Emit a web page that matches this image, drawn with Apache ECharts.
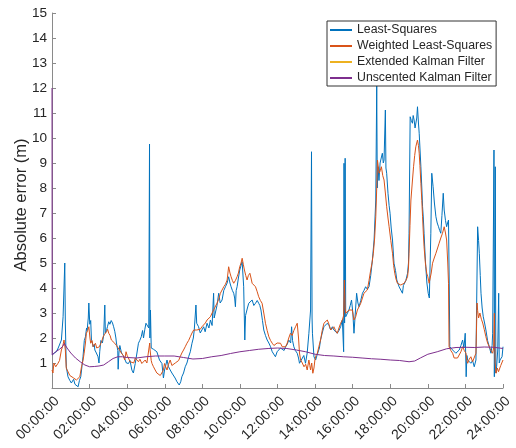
<!DOCTYPE html>
<html>
<head>
<meta charset="utf-8">
<script src="https://cdn.jsdelivr.net/npm/echarts@6/dist/echarts.min.js"></script>
<style>html,body{margin:0;padding:0;background:#fff}#c{width:516px;height:448px}</style>
</head>
<body>
<div id="c"></div>
<script>
const seriesNames = ['Least-Squares','Weighted Least-Squares','Extended Kalman Filter','Unscented Kalman Filter'];
const xTicks = [0,2,4,6,8,10,12,14,16,18,20,22,24];

// Least-Squares: time (hours) and absolute error (m)
const lsT = [0.00,0.12,0.23,0.33,0.41,0.50,0.59,0.68,0.71,0.76,0.85,0.95,1.03,1.15,1.22,1.30,1.39,1.46,1.53,1.60,1.65,1.72,1.78,1.84,1.87,1.93,1.96,2.01,2.06,2.10,2.15,2.19,2.25,2.28,2.36,2.45,2.50,2.54,2.60,2.68,2.75,2.81,2.84,2.90,2.95,3.02,3.08,3.15,3.22,3.28,3.34,3.40,3.43,3.50,3.52,3.56,3.61,3.70,3.79,3.89,3.96,4.07,4.15,4.25,4.33,4.43,4.52,4.60,4.67,4.75,4.82,4.87,4.94,5.00,5.10,5.15,5.19,5.21,5.24,5.28,5.32,5.40,5.49,5.58,5.67,5.72,5.85,5.93,5.99,6.05,6.12,6.20,6.29,6.38,6.47,6.55,6.65,6.72,6.77,6.85,6.91,7.00,7.09,7.18,7.27,7.36,7.45,7.52,7.57,7.66,7.70,7.80,7.89,8.07,8.15,8.25,8.35,8.43,8.52,8.60,8.63,8.69,8.78,8.87,8.95,9.05,9.14,9.23,9.32,9.40,9.47,9.53,9.60,9.67,9.72,9.76,9.80,9.85,9.92,9.99,10.06,10.12,10.20,10.26,10.30,10.33,10.40,10.47,10.56,10.65,10.74,10.83,10.92,11.00,11.06,11.12,11.20,11.27,11.36,11.45,11.54,11.63,11.72,11.80,11.89,11.98,12.07,12.16,12.25,12.35,12.43,12.52,12.60,12.70,12.75,12.80,12.87,12.95,13.05,13.12,13.17,13.25,13.32,13.40,13.49,13.58,13.67,13.76,13.81,13.84,13.86,13.94,14.03,14.10,14.17,14.23,14.29,14.38,14.47,14.56,14.65,14.74,14.83,14.92,15.00,15.09,15.18,15.27,15.36,15.45,15.52,15.54,15.57,15.60,15.63,15.72,15.80,15.87,15.94,16.01,16.07,16.14,16.21,16.28,16.34,16.43,16.52,16.60,16.69,16.78,16.87,16.96,17.05,17.14,17.23,17.28,17.31,17.35,17.40,17.46,17.52,17.58,17.63,17.67,17.74,17.77,17.81,17.88,17.94,17.99,18.05,18.12,18.20,18.28,18.35,18.41,18.47,18.56,18.65,18.70,18.74,18.83,18.92,18.97,19.00,19.06,19.12,19.18,19.22,19.27,19.32,19.36,19.41,19.45,19.50,19.54,19.58,19.63,19.68,19.72,19.76,19.80,19.85,19.89,19.95,20.02,20.08,20.11,20.16,20.21,20.28,20.35,20.43,20.50,20.57,20.63,20.69,20.75,20.82,20.87,20.94,21.00,21.05,21.10,21.14,21.17,21.24,21.32,21.40,21.49,21.58,21.67,21.76,21.85,21.92,21.99,22.04,22.08,22.12,22.20,22.29,22.38,22.47,22.56,22.65,22.70,22.74,22.79,22.83,22.89,22.95,23.02,23.09,23.18,23.27,23.36,23.42,23.45,23.52,23.54,23.56,23.59,23.62,23.66,23.72,23.77,23.80,23.84,23.90,23.95,24.00];
const lsV = [1.32,1.40,1.45,1.60,1.55,1.92,2.85,5.00,2.60,0.85,0.45,0.30,0.20,0.35,0.15,0.20,0.05,0.30,0.45,0.90,1.25,1.90,2.05,2.40,2.30,2.80,3.40,2.55,2.70,1.90,1.80,1.65,1.75,1.52,1.40,1.25,1.00,1.45,1.90,1.80,2.10,3.32,2.20,2.30,2.45,2.65,2.55,2.70,2.60,2.45,2.27,2.00,1.80,1.50,0.75,1.40,1.70,1.40,1.30,1.12,1.00,0.98,1.10,0.72,0.60,0.98,1.40,1.79,1.90,2.05,2.30,2.00,2.35,2.59,2.65,2.40,9.76,2.00,3.12,1.60,1.65,1.55,1.60,1.45,1.52,1.12,0.98,0.40,0.72,0.90,1.12,0.85,0.72,0.60,0.52,0.40,0.25,0.30,0.12,0.25,0.45,0.60,0.85,1.00,1.25,1.45,1.79,2.00,2.32,3.32,2.59,2.45,2.20,2.45,2.25,2.59,2.40,2.72,2.50,3.79,2.80,2.85,3.30,3.79,3.40,3.52,3.90,4.05,4.20,4.45,4.20,4.05,3.90,3.79,3.60,3.25,3.90,4.05,4.40,4.72,4.90,5.05,4.05,1.92,2.90,2.85,3.20,3.39,3.45,3.52,3.30,3.39,3.50,3.39,3.30,3.12,2.70,2.32,2.10,1.92,1.80,1.65,1.45,1.39,1.25,1.45,1.39,1.60,1.65,1.50,1.65,1.75,1.92,1.80,2.45,1.90,1.65,1.50,1.39,1.20,0.99,1.10,1.12,1.30,0.99,1.40,2.19,3.12,9.45,2.80,2.19,1.25,1.12,1.30,1.25,1.60,1.92,2.20,2.45,2.40,2.59,2.50,2.32,2.45,2.32,2.40,2.19,2.30,2.45,2.72,1.45,8.99,2.60,9.19,2.85,2.90,3.12,3.30,3.52,3.00,2.19,3.00,3.79,3.40,3.25,3.50,3.79,3.90,4.05,3.95,4.05,4.50,5.12,5.92,7.52,12.10,8.00,8.85,8.30,9.00,9.20,9.39,9.00,9.12,11.12,8.80,8.59,7.79,7.30,6.99,6.40,5.92,4.99,4.70,4.32,4.40,4.05,4.00,3.79,4.10,4.05,4.30,4.59,5.00,6.19,10.85,10.70,10.59,10.90,10.72,10.40,10.45,10.80,11.25,10.60,10.19,9.60,8.85,8.00,7.25,6.80,6.19,5.40,4.85,4.20,3.79,3.60,3.52,6.19,8.59,8.05,7.40,6.85,6.60,6.45,6.30,6.19,6.90,7.79,7.12,6.70,6.45,6.60,6.72,4.00,1.65,1.70,1.52,1.45,1.39,1.45,1.52,1.70,1.92,1.60,2.19,0.45,1.30,1.12,1.20,0.99,1.10,0.85,1.12,6.45,5.90,5.39,4.50,3.79,3.20,2.85,2.60,2.32,1.90,1.65,1.39,1.70,2.19,9.52,0.45,3.00,8.85,0.60,0.85,1.52,3.79,1.00,1.12,1.10,1.25,1.65];

// Weighted Least-Squares
const wlsT = [0.00,0.05,0.10,0.20,0.32,0.40,0.50,0.58,0.64,0.71,0.76,0.85,0.95,1.03,1.15,1.30,1.40,1.48,1.57,1.65,1.71,1.78,1.83,1.90,1.96,2.02,2.06,2.13,2.19,2.25,2.31,2.38,2.45,2.52,2.60,2.66,2.72,2.80,2.90,2.96,3.02,3.09,3.16,3.25,3.34,3.43,3.52,3.61,3.70,3.79,3.87,3.94,4.00,4.07,4.16,4.25,4.35,4.43,4.52,4.60,4.68,4.78,4.87,4.96,5.05,5.13,5.20,5.22,5.28,5.32,5.40,5.49,5.58,5.67,5.76,5.85,5.92,5.99,6.05,6.12,6.20,6.29,6.38,6.47,6.56,6.65,6.74,6.82,6.91,7.00,7.09,7.18,7.27,7.36,7.45,7.54,7.62,7.70,7.80,7.89,7.98,8.07,8.16,8.25,8.34,8.43,8.52,8.60,8.69,8.78,8.87,8.96,9.05,9.14,9.23,9.32,9.40,9.47,9.53,9.60,9.67,9.76,9.85,9.92,9.99,10.06,10.12,10.18,10.24,10.31,10.38,10.45,10.53,10.59,10.65,10.74,10.83,10.92,11.00,11.09,11.18,11.27,11.36,11.45,11.54,11.63,11.72,11.81,11.90,11.98,12.07,12.16,12.25,12.34,12.43,12.52,12.60,12.69,12.78,12.87,12.96,13.05,13.12,13.17,13.23,13.32,13.41,13.50,13.58,13.67,13.72,13.76,13.82,13.88,13.94,13.99,14.05,14.12,14.20,14.29,14.38,14.47,14.56,14.65,14.74,14.83,14.92,15.00,15.09,15.18,15.27,15.36,15.45,15.52,15.56,15.60,15.63,15.72,15.80,15.89,15.98,16.07,16.16,16.25,16.34,16.43,16.52,16.60,16.69,16.78,16.87,16.96,17.03,17.10,17.17,17.23,17.28,17.32,17.37,17.41,17.47,17.53,17.60,17.67,17.74,17.81,17.88,17.94,18.03,18.12,18.18,18.24,18.31,18.38,18.47,18.56,18.65,18.74,18.83,18.92,18.97,19.00,19.05,19.10,19.17,19.24,19.30,19.36,19.45,19.50,19.54,19.58,19.63,19.68,19.72,19.76,19.80,19.87,19.94,20.00,20.07,20.11,20.18,20.25,20.34,20.43,20.52,20.60,20.69,20.78,20.87,20.94,21.00,21.06,21.10,21.13,21.22,21.32,21.40,21.49,21.58,21.67,21.76,21.85,21.94,22.03,22.08,22.12,22.20,22.29,22.38,22.47,22.56,22.62,22.65,22.70,22.77,22.85,22.92,23.00,23.09,23.18,23.27,23.36,23.45,23.50,23.54,23.58,23.63,23.70,23.76,23.81,23.88,23.95,24.00];
const wlsV = [0.72,0.60,0.99,0.85,0.99,1.10,1.52,1.70,1.92,1.52,0.79,0.72,0.50,0.45,0.40,0.32,0.40,0.45,0.85,1.10,1.39,1.80,2.19,2.30,2.45,2.00,1.79,1.90,1.65,1.70,1.79,1.60,1.52,1.65,1.79,1.90,2.05,2.15,2.25,2.35,2.19,2.10,1.92,1.85,1.79,1.70,1.65,1.50,1.39,1.30,1.12,1.45,1.30,1.25,1.05,1.12,1.00,1.20,1.12,1.05,1.15,0.98,1.05,1.12,1.00,0.98,1.80,1.52,1.10,0.98,0.85,0.72,0.60,0.52,0.50,0.45,0.70,0.98,0.85,0.72,0.95,1.12,0.90,0.85,1.00,0.98,1.10,1.25,1.40,1.52,1.65,1.79,1.90,2.05,2.20,2.32,2.25,2.32,2.40,2.35,2.45,2.45,2.60,2.72,2.70,2.85,3.00,3.12,3.20,3.39,3.55,3.79,3.85,4.05,4.15,4.32,4.85,4.60,4.45,4.30,4.19,4.30,4.45,4.60,4.85,5.00,5.19,4.95,4.72,4.50,4.32,4.50,4.59,4.40,4.19,4.20,4.05,3.85,3.65,3.50,3.39,3.00,2.59,2.30,2.05,1.90,1.79,1.70,1.65,1.80,1.79,1.79,1.65,1.70,1.65,1.80,2.00,2.19,2.10,2.30,2.45,2.59,2.00,1.40,1.12,1.00,0.85,0.95,0.72,1.12,0.90,0.72,1.00,0.59,0.80,1.12,1.30,1.39,1.65,1.92,2.30,2.59,2.65,2.72,2.55,2.32,2.40,2.45,2.30,2.19,2.40,2.59,2.72,2.90,4.32,3.20,2.99,3.05,3.12,3.12,3.12,2.72,2.85,3.12,3.25,3.39,3.60,3.79,3.85,3.92,4.30,4.72,5.00,5.39,6.00,6.85,8.00,9.12,8.80,8.59,8.70,8.85,8.50,8.32,7.80,7.25,6.80,6.45,5.90,5.39,4.90,4.59,4.35,4.19,4.15,4.12,4.20,4.19,4.30,4.45,4.80,5.39,6.50,7.52,8.20,8.85,9.30,9.65,9.92,9.70,9.39,8.90,8.19,7.50,6.85,6.20,5.65,5.00,4.59,4.45,4.19,4.19,4.60,4.99,5.20,5.39,5.60,5.79,6.00,6.19,6.45,6.20,5.92,5.00,4.19,1.65,1.50,1.39,1.20,1.12,1.20,1.25,1.45,1.65,1.50,1.39,1.10,0.99,1.15,1.25,1.05,1.12,1.39,3.40,3.10,2.80,3.00,2.75,2.60,2.35,2.05,1.80,1.65,1.50,1.39,1.60,2.99,1.00,0.59,0.80,0.65,0.72,0.90,0.85,1.12];

// Extended Kalman Filter (not visible in the reference; legend entry only)
const ekfT = [];
const ekfV = [];

// Unscented Kalman Filter
const ukfT = [0.00,0.01,0.20,0.40,0.55,0.66,0.80,1.00,1.25,1.50,1.75,2.00,2.25,2.50,2.75,3.00,3.25,3.50,3.75,4.00,4.50,5.00,5.50,6.00,6.50,7.00,7.50,8.00,8.50,9.00,9.50,10.00,10.50,11.00,11.50,12.00,12.50,13.00,13.50,14.00,14.50,15.00,15.50,16.00,16.50,17.00,17.50,18.00,18.50,19.00,19.30,19.60,20.00,20.50,21.00,21.50,22.00,22.50,23.00,23.50,24.00];
const ukfV = [12.0,1.32,1.45,1.55,1.65,1.78,1.60,1.40,1.20,1.05,0.92,0.85,0.86,0.88,0.92,1.05,1.18,1.25,1.25,1.22,1.20,1.25,1.28,1.28,1.28,1.22,1.16,1.18,1.25,1.30,1.38,1.45,1.50,1.55,1.58,1.60,1.58,1.52,1.45,1.35,1.30,1.28,1.25,1.23,1.20,1.17,1.15,1.12,1.10,1.05,1.08,1.20,1.35,1.45,1.57,1.62,1.63,1.62,1.64,1.63,1.58];

const colors = ['#0072BD','#D95319','#EDB120','#7E2F8E'];
const zip = (t, v) => t.map((x, i) => [x, v[i]]);
const pad = n => (n < 10 ? '0' : '') + n;

const chart = echarts.init(document.getElementById('c'), null, {renderer: 'canvas'});
const axisCol = '#8a8a8a';
const txtCol = '#262626';
const font = 'Liberation Sans, Arial, sans-serif';
const datas = [zip(lsT, lsV), zip(wlsT, wlsV), zip(ekfT, ekfV), zip(ukfT, ukfV)];

chart.setOption({
  animation: false,
  backgroundColor: '#fff',
  textStyle: {fontFamily: font},
  grid: {left: 52, right: 13, top: 13, bottom: 60, containLabel: false, outerBoundsMode: 'none'},
  legend: {
    orient: 'vertical',
    left: 327, top: 21,
    padding: [3, 4, 2, 3],
    itemGap: 4,
    itemWidth: 22, itemHeight: 2,
    icon: 'rect',
    backgroundColor: '#fff',
    borderColor: '#333',
    borderWidth: 1,
    borderRadius: 0,
    textStyle: {fontSize: 12.3, color: txtCol, fontFamily: font},
    data: seriesNames
  },
  xAxis: {
    type: 'value', min: 0, max: 24, interval: 2,
    axisLine: {show: true, lineStyle: {color: axisCol, width: 1}},
    axisTick: {show: true, inside: true, length: 4, lineStyle: {color: axisCol}},
    splitLine: {show: false},
    axisLabel: {
      rotate: 45, fontSize: 14, color: txtCol, margin: 6, fontFamily: font,
      verticalAlign: 'top',
      formatter: v => xTicks.indexOf(v) >= 0 ? pad(v) + ':00:00' : ''
    }
  },
  yAxis: {
    type: 'value', min: 0, max: 15, interval: 1,
    name: 'Absolute error (m)', nameLocation: 'middle', nameGap: 22,
    nameMoveOverlap: false,
    nameTextStyle: {fontSize: 16.5, color: txtCol, fontFamily: font, padding: [0, 9, 0, 0]},
    axisLine: {show: true, lineStyle: {color: axisCol, width: 1}},
    axisTick: {show: true, inside: true, length: 4, lineStyle: {color: axisCol}},
    splitLine: {show: false},
    axisLabel: {fontSize: 13.6, color: txtCol, margin: 5, fontFamily: font,
      formatter: v => v === 0 ? '' : String(v)}
  },
  series: seriesNames.map((n, i) => ({
    name: n, type: 'line', data: datas[i],
    showSymbol: false, symbol: 'none',
    lineStyle: {width: 1, color: colors[i]},
    itemStyle: {color: colors[i]},
    clip: true
  }))
});
</script>
</body>
</html>
